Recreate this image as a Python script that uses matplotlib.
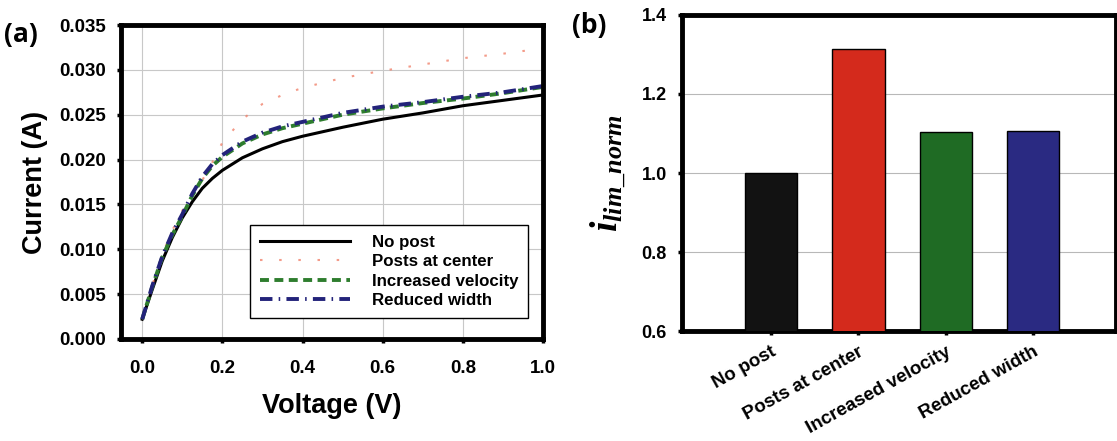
import numpy as np
import matplotlib.pyplot as plt

plt.rcParams['font.family'] = ['Liberation Sans', 'DejaVu Sans']
plt.rcParams['font.weight'] = 'bold'
plt.rcParams['mathtext.fontset'] = 'custom'
plt.rcParams['mathtext.it'] = 'Liberation Serif:italic:bold'
plt.rcParams['mathtext.rm'] = 'Liberation Serif:bold'

# I-V curves
voltage = [0.0, 0.025, 0.05, 0.075, 0.1, 0.125, 0.15, 0.175, 0.2, 0.25, 0.3,
           0.35, 0.4, 0.5, 0.6, 0.7, 0.8, 0.9, 1.0]
no_post = [0.0022, 0.0055, 0.0087, 0.0113, 0.0135, 0.0153, 0.0168, 0.0179, 0.0188,
           0.0202, 0.0212, 0.0220, 0.0226, 0.0236, 0.0245, 0.0252, 0.0260, 0.0266, 0.0272]
posts_center = [0.0022, 0.0060, 0.0094, 0.0121, 0.0143, 0.0162, 0.0177, 0.0197, 0.0219,
                0.0245, 0.0262, 0.0272, 0.0280, 0.0291, 0.0299, 0.0306, 0.0313, 0.0318, 0.0324]
incr_velocity = [0.0022, 0.0058, 0.0091, 0.0116, 0.0137, 0.0160, 0.0179, 0.0193, 0.0203,
                 0.0218, 0.0228, 0.0235, 0.0240, 0.0250, 0.0257, 0.0263, 0.0268, 0.0274, 0.0281]
reduced_width = [0.0022, 0.0059, 0.0092, 0.0118, 0.0139, 0.0162, 0.0181, 0.0195, 0.0205,
                 0.0220, 0.0230, 0.0237, 0.0242, 0.0252, 0.0259, 0.0264, 0.0270, 0.0275, 0.0282]

# normalised limiting current
cases = ['No post', 'Posts at center', 'Increased velocity', 'Reduced width']
i_lim_norm = [1.0, 1.314, 1.105, 1.107]
bar_colors = ['#121212', '#d42a1c', '#1f6b24', '#2a2a82']

fig = plt.figure(figsize=(11.17, 4.41), dpi=100)
ax1 = fig.add_axes([0.1083, 0.2313, 0.3778, 0.712])
ax2 = fig.add_axes([0.6106, 0.2494, 0.3885, 0.7166])

# ---- (a) current vs voltage
ax1.plot(voltage, no_post, color='black', lw=2.2, label='No post')
ax1.plot(voltage, posts_center, color='#f07a62', lw=1.5, alpha=0.75,
         dashes=(1.2, 8), label='Posts at center')
ax1.plot(voltage, incr_velocity, color='#2e7d2e', lw=2.8, dashes=(2.3, 1.4),
         label='Increased velocity')
ax1.plot(voltage, reduced_width, color='#23237a', lw=2.8, dashes=(3.2, 1.6, 0.4, 1.6),
         label='Reduced width')

ax1.set_xlim(-0.053, 1.0)
ax1.set_ylim(0, 0.035)
ax1.set_xticks(np.arange(0, 1.01, 0.2))
ax1.set_yticks(np.arange(0, 0.0351, 0.005))
ax1.set_xticklabels(['%.1f' % v for v in np.arange(0, 1.01, 0.2)])
ax1.set_yticklabels(['%.3f' % v for v in np.arange(0, 0.0351, 0.005)])
ax1.grid(True, color='#c8c8c8', lw=0.8)
ax1.set_axisbelow(True)
ax1.tick_params(direction='out', length=3, width=2.5, labelsize=13.5, pad=8)
ax1.tick_params(axis='x', pad=12)
for s in ax1.spines.values():
    s.set_linewidth(3.5)
ax1.set_xlabel('Voltage (V)', fontsize=19.5, fontweight='bold', labelpad=12)
ax1.set_ylabel('Current (A)', fontsize=19.5, fontweight='bold', labelpad=8)

leg = ax1.legend(loc='lower right', bbox_to_anchor=(0.965, 0.067), borderaxespad=0,
                 fontsize=12.2, handlelength=5.3, handletextpad=1.3,
                 labelspacing=0.25, fancybox=False, framealpha=1,
                 edgecolor='black', borderpad=0.6)
leg.get_frame().set_linewidth(1.0)

# ---- (b) normalised limiting current
xpos = np.arange(len(cases))
ax2.bar(xpos, i_lim_norm, width=0.6, color=bar_colors, edgecolor='black', lw=1.0, zorder=3)
ax2.set_xlim(-1.02, 3.95)
ax2.set_ylim(0.6, 1.4)
ax2.set_yticks([0.6, 0.8, 1.0, 1.2, 1.4])
ax2.set_yticklabels(['0.6', '0.8', '1.0', '1.2', '1.4'])
ax2.set_xticks(xpos)
ax2.set_xticklabels(cases, rotation=29, ha='right', rotation_mode='anchor')
ax2.yaxis.grid(True, color='#b8b8b8', lw=0.8)
ax2.set_axisbelow(True)
ax2.tick_params(direction='out', length=3, width=2.5, labelsize=13, pad=8)
ax2.tick_params(axis='x', labelsize=13.5, pad=6)
for s in ax2.spines.values():
    s.set_linewidth(3.5)
ax2.set_ylabel(r'$i_{lim\_norm}$', fontsize=27, labelpad=10)

fig.text(0.004, 0.905, '(a)', fontsize=19, fontweight='bold', family=['Open Sans', 'DejaVu Sans'])
fig.text(0.512, 0.925, '(b)', fontsize=19, fontweight='bold', family=['Open Sans', 'DejaVu Sans'])

fig.savefig('out.png', dpi=100)
